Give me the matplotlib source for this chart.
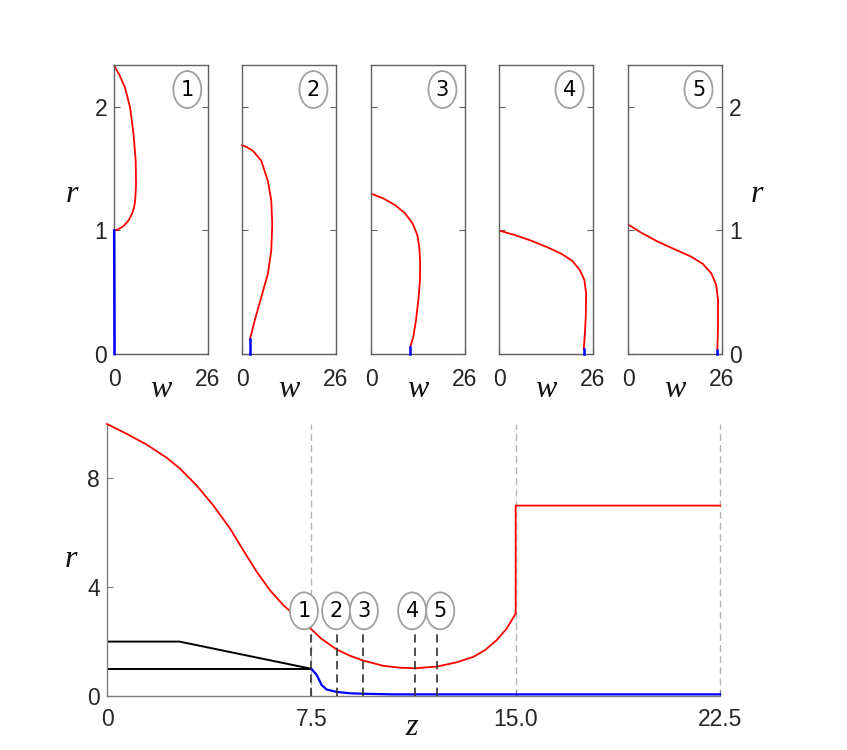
import numpy as np
import matplotlib
matplotlib.use('Agg')
import matplotlib.pyplot as plt
from matplotlib.patches import Ellipse

# velocity profiles w(r) at the five stations
w1_red = [0.0, 1.2, 2.6, 4.0, 4.9, 5.5, 5.85, 6.1, 6.0, 5.4, 4.46, 3.06, 1.5, 0.1]
r1_red = [1.0, 1.01, 1.035, 1.08, 1.13, 1.18, 1.24, 1.376, 1.565, 1.78, 1.995, 2.156, 2.26, 2.33]
w1_blue = [0.15, 0.05]
r1_blue = [0.0, 1.0]

w2_red = [2.2, 3.5, 5.33, 7.17, 8.1, 8.36, 8.1, 7.17, 5.33, 3.03, 1.2, 0.0]
r2_red = [0.12, 0.27, 0.46, 0.65, 0.84, 1.05, 1.24, 1.40, 1.565, 1.645, 1.677, 1.69]
w2_blue = [2.2, 2.2]
r2_blue = [0.0, 0.12]

w3_red = [10.9, 11.7, 12.45, 13.1, 13.55, 13.6, 13.36, 12.8, 11.5, 9.4, 6.64, 3.4, 0.2]
r3_red = [0.06, 0.14, 0.275, 0.437, 0.60, 0.734, 0.869, 0.964, 1.058, 1.14, 1.206, 1.26, 1.296]
w3_blue = [10.9, 10.9]
r3_blue = [0.0, 0.06]

w4_red = [23.45, 23.7, 24.0, 24.1, 23.6, 22.35, 20.25, 17.05, 13.4, 8.85, 4.3, 0.2]
r4_red = [0.04, 0.14, 0.30, 0.49, 0.60, 0.68, 0.755, 0.815, 0.864, 0.918, 0.964, 0.998]
w4_blue = [23.45, 23.45]
r4_blue = [0.0, 0.04]

w5_red = [24.7, 24.9, 24.9, 24.4, 23.05, 20.7, 17.5, 12.9, 8.3, 3.68, 0.2]
r5_red = [0.03, 0.22, 0.437, 0.559, 0.653, 0.729, 0.788, 0.848, 0.909, 0.982, 1.045]
w5_blue = [24.7, 24.7]
r5_blue = [0.0, 0.03]

# outer boundary along z
z_red = [0.0, 0.72, 1.46, 2.19, 2.68, 3.29, 3.9, 4.52, 5.0, 5.5, 5.98, 6.47,
         7.09, 7.57, 7.85, 8.43, 8.92, 9.41, 10.14, 10.76, 11.31, 12.1, 12.84,
         13.45, 13.88, 14.31, 14.67, 15.0, 15.0, 22.5]
r_red = [10.0, 9.64, 9.24, 8.76, 8.36, 7.74, 7.01, 6.15, 5.36, 4.56, 3.89, 3.34,
         2.79, 2.39, 2.12, 1.71, 1.48, 1.30, 1.11, 1.04, 1.02, 1.08, 1.24,
         1.44, 1.69, 2.06, 2.48, 3.03, 7.0, 7.0]

# inner interface along z
z_blue = [7.5, 7.7, 7.88, 8.06, 8.43, 8.92, 9.53, 10.5, 22.5]
r_blue = [1.0, 0.77, 0.40, 0.24, 0.15, 0.10, 0.08, 0.06, 0.06]

# nozzle walls
z_wall_top = [0.0, 2.66, 7.5]
r_wall_top = [2.0, 2.0, 1.0]
z_wall_low = [0.0, 7.5]
r_wall_low = [1.0, 1.0]

z_stations = [7.5, 8.43, 9.38, 11.31, 12.1]
z_badges = [7.23, 8.41, 9.43, 11.2, 12.23]
r_station_top = 2.3
z_guides = [7.5, 15.0, 22.5]
labels = ['1', '2', '3', '4', '5']

profiles = [(w1_red, r1_red, w1_blue, r1_blue),
            (w2_red, r2_red, w2_blue, r2_blue),
            (w3_red, r3_red, w3_blue, r3_blue),
            (w4_red, r4_red, w4_blue, r4_blue),
            (w5_red, r5_red, w5_blue, r5_blue)]

W, H = 847, 750
fig = plt.figure(figsize=(W / 100, H / 100), dpi=100)

tick_font = 'Liberation Sans'
tick_size = 16.5
lab_font = dict(family='Liberation Serif', style='italic', fontsize=23, color='#111111')
txt_col = '#262626'

# top panels
lefts = [114, 242, 371, 499, 628]
badge_x = [0.78, 0.76, 0.76, 0.75, 0.75]
for i, (wr, rr, wb, rb) in enumerate(profiles):
    ax = fig.add_axes([lefts[i] / W, 1 - 354 / H, 94 / W, 289 / H])
    ax.plot(wr, rr, color='red', lw=1.3, clip_on=False)
    ax.plot(wb, rb, color='blue', lw=1.8, clip_on=False, zorder=3)
    ax.set_xlim(0, 26)
    ax.set_ylim(0, 2.34)
    ax.set_xticks([0, 26])
    ax.set_yticks([0, 1, 2])
    for s in ax.spines.values():
        s.set_color('#606060')
        s.set_linewidth(1.0)
    ax.tick_params(direction='in', length=4, width=0.8, color='#606060',
                   left=True, right=True, top=False, labelsize=tick_size,
                   labelcolor=txt_col)
    ax.tick_params(axis='x', pad=10)
    ax.tick_params(axis='y', pad=5, labelleft=(i == 0), labelright=(i == 4))
    for t in ax.get_xticklabels() + ax.get_yticklabels():
        t.set_fontfamily(tick_font)
    ax.add_patch(Ellipse((badge_x[i], 0.915), 28 / 94, 37 / 289,
                         transform=ax.transAxes, facecolor='white',
                         edgecolor='#a0a0a0', lw=1.3, zorder=5))
    ax.text(badge_x[i], 0.915, labels[i], transform=ax.transAxes, ha='center',
            va='center', fontsize=15, family='DejaVu Sans', color='black', zorder=6)
    ax.text(0.5, (354 - 397) / 289, 'w', transform=ax.transAxes, ha='center',
            va='baseline', **lab_font)

fig.text(72 / W, 1 - 202 / H, 'r', ha='center', va='baseline', **lab_font)
fig.text(757 / W, 1 - 202 / H, 'r', ha='center', va='baseline', **lab_font)

# bottom panel
ax = fig.add_axes([107 / W, 1 - 696 / H, 613 / W, 272 / H])
for zg in z_guides:
    ax.axvline(zg, color='#b4b4b4', lw=1.0, ls=(0, (5, 3)), zorder=1, clip_on=False)
ax.plot(z_wall_top, r_wall_top, color='black', lw=1.4, zorder=2)
ax.plot(z_wall_low, r_wall_low, color='black', lw=1.4, zorder=2)
ax.plot(z_red, r_red, color='red', lw=1.3, zorder=3, clip_on=False)
ax.plot(z_blue, r_blue, color='blue', lw=1.6, zorder=3, clip_on=False)
ax.vlines(z_stations, 0, r_station_top, color='#333333', lw=1.2,
          linestyles=(0, (5, 3)), zorder=4)
for zb, lab in zip(z_badges, labels):
    ax.add_patch(Ellipse((zb, 3.13), 28 / 27.24, 37 / 27.25, facecolor='white',
                         edgecolor='#a0a0a0', lw=1.3, zorder=5))
    ax.text(zb, 3.13, lab, ha='center', va='center', fontsize=15,
            family='DejaVu Sans', color='black', zorder=6)
ax.set_xlim(0, 22.5)
ax.set_ylim(0, 10)
ax.set_xticks([0, 7.5, 15.0, 22.5])
ax.set_xticklabels(['0', '7.5', '15.0', '22.5'])
ax.set_yticks([0, 4, 8])
ax.spines['top'].set_visible(False)
ax.spines['right'].set_visible(False)
for s in ['left', 'bottom']:
    ax.spines[s].set_color('#808080')
    ax.spines[s].set_linewidth(1.0)
ax.tick_params(direction='in', length=4, width=0.8, color='#808080',
               labelsize=tick_size, labelcolor=txt_col)
ax.tick_params(axis='x', pad=9)
ax.tick_params(axis='y', pad=5)
for t in ax.get_xticklabels() + ax.get_yticklabels():
    t.set_fontfamily(tick_font)

fig.text(71 / W, 1 - 567 / H, 'r', ha='center', va='baseline', **lab_font)
fig.text(412 / W, 1 - 735 / H, 'z', ha='center', va='baseline', **lab_font)

fig.savefig('out.png', dpi=100, facecolor='white')
